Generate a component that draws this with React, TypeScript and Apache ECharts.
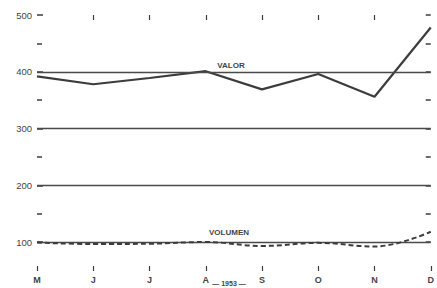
import React, { useEffect, useRef } from "react";
import * as echarts from "echarts";

const months = ["M", "J", "J", "A", "S", "O", "N", "D"];
const valor = [392, 378, 389, 401, 369, 396, 356, 478];
const volumen = [99, 96.5, 97, 100, 93, 98.5, 92, 118];
const gridValues = [100, 200, 300, 400];
const yearLabel = "— 1953 —";

export default function App() {
  const ref = useRef<HTMLDivElement>(null);
  useEffect(() => {
    if (!ref.current) return;
    const chart = echarts.init(ref.current, null, { renderer: "svg" });
    const ink = "#3c3c3c";
    const font = "Liberation Sans";
    chart.setOption({
      animation: false,
      backgroundColor: "#ffffff",
      grid: { left: 37, right: 5, top: 15, bottom: 46, containLabel: false },
      xAxis: [
        {
          type: "category",
          data: months,
          boundaryGap: false,
          position: "bottom",
          offset: 24,
          axisLine: { show: false },
          axisTick: { show: true, length: 5, lineStyle: { color: ink, width: 1.2 } },
          axisLabel: { color: "#444", fontSize: 9, fontFamily: font, fontWeight: "bold", margin: 9 },
          splitLine: { show: false },
        },
        {
          type: "category",
          data: months,
          boundaryGap: false,
          position: "top",
          axisLine: { show: false },
          axisTick: {
            show: true,
            inside: true,
            length: 5,
            interval: (i: number) => i > 0 && i < months.length - 1,
            lineStyle: { color: ink, width: 1.2 },
          },
          axisLabel: { show: false },
          splitLine: { show: false },
        },
      ],
      yAxis: [
        {
          type: "value",
          min: 100,
          max: 500,
          interval: 100,
          position: "left",
          axisLine: { show: false },
          axisTick: { show: true, inside: true, length: 6, lineStyle: { color: ink, width: 1.5 } },
          minorTick: { show: true, splitNumber: 2, length: 5, lineStyle: { color: ink, width: 1.5 } },
          axisLabel: { color: "#444", fontSize: 9.5, fontFamily: font, margin: 5 },
          splitLine: { show: false },
        },
        {
          type: "value",
          min: 100,
          max: 500,
          interval: 100,
          position: "right",
          axisLine: { show: false },
          axisTick: { show: true, inside: true, length: 5, lineStyle: { color: ink, width: 1.5 } },
          minorTick: { show: true, splitNumber: 2, length: 5, lineStyle: { color: ink, width: 1.5 } },
          axisLabel: { show: false },
          splitLine: { show: false },
        },
      ],
      series: [
        {
          name: "grid",
          type: "line",
          data: [],
          xAxisIndex: 0,
          yAxisIndex: 0,
          z: 1,
          markLine: {
            silent: true,
            symbol: ["none", "none"],
            label: { show: false },
            lineStyle: { color: "#4a4a4a", width: 1.4, type: "solid" },
            data: gridValues.map((v) => ({ yAxis: v })),
          },
        },
        {
          name: "VALOR",
          type: "line",
          data: valor,
          xAxisIndex: 0,
          yAxisIndex: 0,
          symbol: "none",
          clip: false,
          lineStyle: { color: ink, width: 2.2 },
          z: 4,
        },
        {
          name: "VOLUMEN",
          type: "line",
          data: volumen,
          xAxisIndex: 0,
          yAxisIndex: 0,
          symbol: "none",
          smooth: 0.4,
          clip: false,
          lineStyle: { color: ink, width: 2, type: [5, 3] },
          z: 5,
        },
      ],
      graphic: [
        {
          type: "text",
          x: 231,
          y: 65,
          style: {
            text: "VALOR",
            font: `bold 8px ${font}`,
            fill: "#444",
            textAlign: "center",
            textVerticalAlign: "middle",
          },
        },
        {
          type: "text",
          x: 229,
          y: 232,
          style: {
            text: "VOLUMEN",
            font: `bold 8px ${font}`,
            fill: "#444",
            textAlign: "center",
            textVerticalAlign: "middle",
          },
        },
        {
          type: "text",
          x: 229,
          y: 283,
          style: {
            text: yearLabel,
            font: `bold 7px ${font}`,
            fill: "#444",
            textAlign: "center",
            textVerticalAlign: "middle",
          },
        },
      ],
    });
    return () => chart.dispose();
  }, []);
  return <div ref={ref} style={{ width: 437, height: 288, position: "absolute", left: 0, top: 0 }} />;
}
